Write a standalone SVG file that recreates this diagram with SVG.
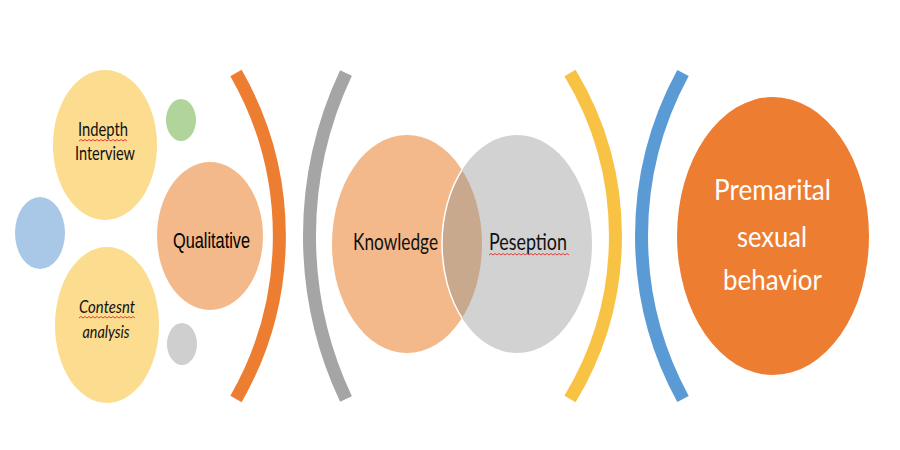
<svg xmlns="http://www.w3.org/2000/svg" width="900" height="450" viewBox="0 0 900 450">
<style>
.cal{font-family:Lato,"Open Sans","Noto Sans",sans-serif;fill:#111}
.arial{font-family:"Liberation Sans",Arial,sans-serif;fill:#000}
.arc{fill:none;stroke-width:13;stroke-linecap:butt}
.sq{fill:none;stroke:#e0302c;stroke-width:0.9}
</style>
<defs>
<clipPath id="kclip"><ellipse cx="407" cy="244" rx="75" ry="109"/></clipPath>
</defs>
<rect width="900" height="450" fill="#fff"/>

<g id="brackets">
<path class="arc" stroke="#ED7D31" d="M236,73 A328,328 0 0 1 236,399"/>
<path class="arc" stroke="#A5A5A5" d="M346,73 A382,382 0 0 0 346,399"/>
<path class="arc" stroke="#F8C244" d="M570,73 A315,315 0 0 1 570,399"/>
<path class="arc" stroke="#5B9BD5" d="M683,73 A341,341 0 0 0 683,399"/>
</g>

<g id="dot-blue"><ellipse cx="40" cy="233" rx="25" ry="36" fill="#A9C8E8"/></g>
<g id="dot-green"><ellipse cx="181" cy="120" rx="15" ry="21" fill="#B0D49A"/></g>
<g id="dot-gray"><ellipse cx="182" cy="344" rx="15" ry="21" fill="#CFCFCF"/></g>

<g id="indepth">
<ellipse cx="105" cy="145" rx="52" ry="75" fill="#FCDC8E"/>
<text class="cal" transform="translate(103,136) scale(1,1.35)" text-anchor="middle" font-size="13.5" textLength="50" lengthAdjust="spacingAndGlyphs">Indepth</text>
<text class="cal" transform="translate(105,160) scale(1,1.35)" text-anchor="middle" font-size="13.5" textLength="60" lengthAdjust="spacingAndGlyphs">Interview</text>
<path class="sq" d="M79,141 l2,-1.5 2,1.5 2,-1.5 2,1.5 2,-1.5 2,1.5 2,-1.5 2,1.5 2,-1.5 2,1.5 2,-1.5 2,1.5 2,-1.5 2,1.5 2,-1.5 2,1.5 2,-1.5 2,1.5 2,-1.5 2,1.5 2,-1.5 2,1.5 2,-1.5 2,1.5"/>
</g>

<g id="content-analysis">
<ellipse cx="107" cy="325" rx="52" ry="78" fill="#FCDC8E"/>
<text class="cal" transform="translate(107,313) scale(1,1.35)" text-anchor="middle" font-size="13.5" font-style="italic" textLength="56" lengthAdjust="spacingAndGlyphs">Contesnt</text>
<text class="cal" transform="translate(106,338) scale(1,1.35)" text-anchor="middle" font-size="13.5" font-style="italic" textLength="47" lengthAdjust="spacingAndGlyphs">analysis</text>
<path class="sq" d="M79,318 l2,-1.5 2,1.5 2,-1.5 2,1.5 2,-1.5 2,1.5 2,-1.5 2,1.5 2,-1.5 2,1.5 2,-1.5 2,1.5 2,-1.5 2,1.5 2,-1.5 2,1.5 2,-1.5 2,1.5 2,-1.5 2,1.5 2,-1.5 2,1.5 2,-1.5 2,1.5 2,-1.5 2,1.5 2,-1.5 2,1.5"/>
</g>

<g id="qualitative">
<ellipse cx="210" cy="236" rx="53" ry="74" fill="#F4B98A"/>
<text class="arial" transform="translate(211.5,248) scale(1,1.35)" text-anchor="middle" font-size="17" textLength="77" lengthAdjust="spacingAndGlyphs">Qualitative</text>
</g>

<g id="knowledge">
<ellipse cx="407" cy="244" rx="75" ry="109" fill="#F4B98A"/>
<text class="cal" transform="translate(395.5,250) scale(1,1.35)" text-anchor="middle" font-size="17.5" textLength="85" lengthAdjust="spacingAndGlyphs">Knowledge</text>
</g>

<g id="peseption">
<ellipse cx="517" cy="244" rx="75" ry="109" fill="#D2D2D2"/>
<ellipse cx="517" cy="244" rx="75" ry="109" fill="#C9A98D" stroke="#fff" stroke-width="1.5" clip-path="url(#kclip)"/>
<text class="cal" transform="translate(528,250) scale(1,1.35)" text-anchor="middle" font-size="17.5" textLength="78" lengthAdjust="spacingAndGlyphs">Peseption</text>
<path class="sq" d="M489,255 l2,-1.5 2,1.5 2,-1.5 2,1.5 2,-1.5 2,1.5 2,-1.5 2,1.5 2,-1.5 2,1.5 2,-1.5 2,1.5 2,-1.5 2,1.5 2,-1.5 2,1.5 2,-1.5 2,1.5 2,-1.5 2,1.5 2,-1.5 2,1.5 2,-1.5 2,1.5 2,-1.5 2,1.5 2,-1.5 2,1.5 2,-1.5 2,1.5 2,-1.5 2,1.5 2,-1.5 2,1.5 2,-1.5 2,1.5 2,-1.5 2,1.5 2,-1.5 2,1.5"/>
</g>

<g id="premarital">
<ellipse cx="773" cy="236" rx="96" ry="139" fill="#ED7D31"/>
<text class="cal" transform="translate(772.5,200) scale(1,1.35)" text-anchor="middle" font-size="22" style="fill:#fff" textLength="117" lengthAdjust="spacingAndGlyphs">Premarital</text>
<text class="cal" transform="translate(772,247) scale(1,1.35)" text-anchor="middle" font-size="22" style="fill:#fff" textLength="70" lengthAdjust="spacingAndGlyphs">sexual</text>
<text class="cal" transform="translate(772.5,290) scale(1,1.35)" text-anchor="middle" font-size="22" style="fill:#fff" textLength="99" lengthAdjust="spacingAndGlyphs">behavior</text>
</g>
</svg>
